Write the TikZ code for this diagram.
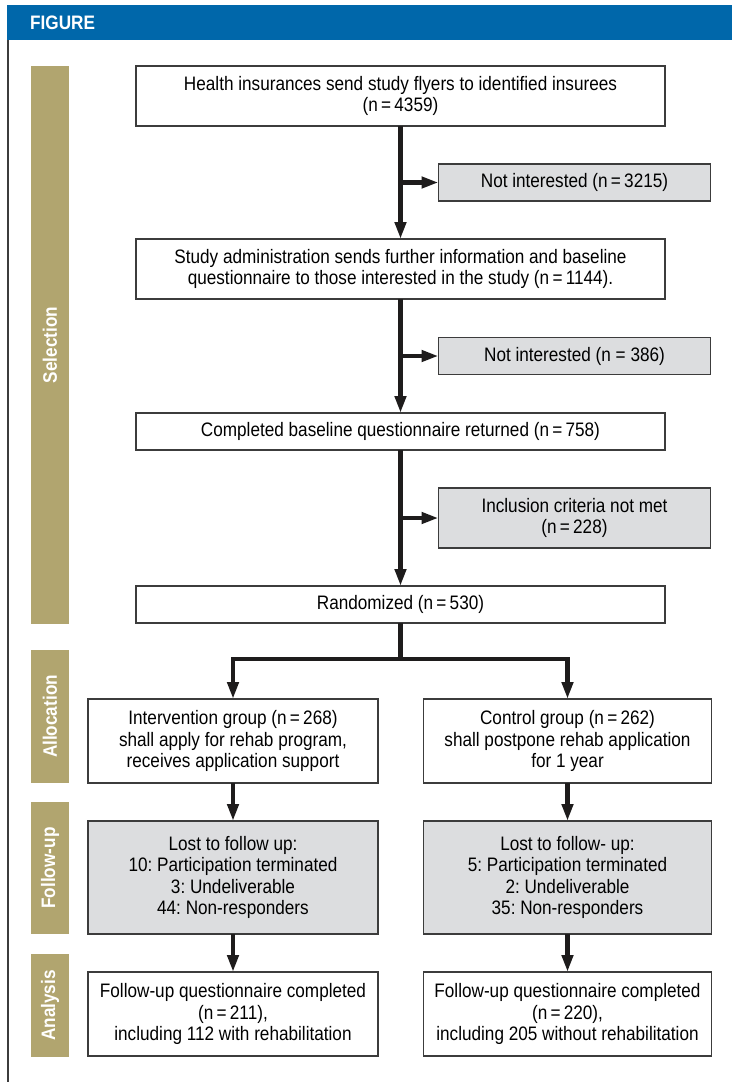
\documentclass[tikz,border=0pt]{standalone}
\usepackage{fontspec}
\setmainfont[FakeStretch=0.88]{Liberation Sans}
\usetikzlibrary{arrows.meta, positioning, calc}
\definecolor{figblue}{RGB}{0,103,170}
\definecolor{bartan}{RGB}{177,165,111}
\definecolor{boxgray}{RGB}{220,221,223}
\definecolor{boxline}{RGB}{60,60,60}
\definecolor{arrowc}{RGB}{30,28,28}
\frenchspacing

\begin{document}
\begin{tikzpicture}[
  x=1pt, y=-1pt,
  box/.style={rectangle, draw=boxline, line width=1.4pt, fill=white, align=center, inner sep=0pt, outer sep=0pt, font=\fontsize{19.5}{21.5}\selectfont},
  excl/.style={box, fill=boxgray, minimum width=272pt},
  bar/.style={rectangle, fill=bartan, rotate=90, minimum height=38pt, inner sep=0pt, text=white, font=\bfseries\fontsize{19.5}{21}\selectfont},
  arr/.style={-{Triangle[length=17pt, width=11pt]}, line width=4.5pt, draw=arrowc}
]
\useasboundingbox (0,0) rectangle (732,1082);
\node[fill=figblue, anchor=north west, minimum height=35pt, inner xsep=23pt, text width=679pt, align=left, text=white, font=\bfseries\fontsize{19.5}{21}\selectfont] (hd) at (7,5) {FIGURE};
\draw[boxline, line width=2pt] ([xshift=1pt]hd.south west) -- ++(0,1042);

\node[bar, minimum width=558pt] (sel) at (50,345) {Selection};
\node[bar, minimum width=133pt] (alc) at (50,716.5) {Allocation};
\node[bar, minimum width=132pt] (fup) at (50,868) {Follow-up};
\node[bar, minimum width=103pt] (ana) at (50,1005.5) {Analysis};

\node[box, minimum width=529pt, minimum height=60pt] (s1) at (400.5,96) {Health insurances send study flyers to identified insurees\\(n\,=\,4359)};
\node[box, minimum width=529pt, minimum height=60pt, below=113pt of s1] (s2) {Study administration sends further information and baseline\\questionnaire to those interested in the study (n\,=\,1144).};
\node[box, minimum width=529pt, minimum height=37pt, below=114pt of s2] (s3) {Completed baseline questionnaire returned (n\,=\,758)};
\node[box, minimum width=529pt, minimum height=37pt, below=136pt of s3] (s4) {Randomized (n\,=\,530)};

\coordinate (b1) at ($(s1.south)!.5!(s2.north)$);
\coordinate (b2) at ($(s2.south)!.5!(s3.north)$);
\coordinate (b3) at ($(s3.south)!.5!(s4.north)$);
\node[excl, minimum height=37pt, right=38pt of b1] (x1) {Not interested (n\,=\,3215)};
\node[excl, minimum height=37pt, right=38pt of b2] (x2) {Not interested (n = 386)};
\node[excl, minimum height=60pt, right=38pt of b3] (x3) {Inclusion criteria not met\\(n\,=\,228)};

\node[box, minimum width=290pt, minimum height=84pt] (i1) at (233,741) {Intervention group (n\,=\,268)\\shall apply for rehab program,\\receives application support};
\node[box, fill=boxgray, minimum width=290pt, minimum height=113pt, below=38pt of i1] (i2) {Lost to follow up:\\10: Participation terminated\\3: Undeliverable\\44: Non-responders};
\node[box, minimum width=290pt, minimum height=84pt, below=38pt of i2] (i3) {Follow-up questionnaire completed\\(n\,=\,211),\\including 112 with rehabilitation};
\node[box, minimum width=288pt, minimum height=84pt] (c1) at (567.5,741) {Control group (n\,=\,262)\\shall postpone rehab application\\for 1 year};
\node[box, fill=boxgray, minimum width=288pt, minimum height=113pt, below=38pt of c1] (c2) {Lost to follow- up:\\5: Participation terminated\\2: Undeliverable\\35: Non-responders};
\node[box, minimum width=288pt, minimum height=84pt, below=38pt of c2] (c3) {Follow-up questionnaire completed\\(n\,=\,220),\\including 205 without rehabilitation};

\draw[arr] (s1) -- (s2); \draw[arr] (s2) -- (s3); \draw[arr] (s3) -- (s4);
\draw[arr] (b1) -- (x1); \draw[arr] (b2) -- (x2); \draw[arr] (b3) -- (x3);
\draw[arr] (s4.south) -- ++(0,36) -| (i1);
\draw[arr] (s4.south) -- ++(0,36) -| (c1);
\draw[arr] (i1) -- (i2); \draw[arr] (i2) -- (i3);
\draw[arr] (c1) -- (c2); \draw[arr] (c2) -- (c3);
\end{tikzpicture}
\end{document}
